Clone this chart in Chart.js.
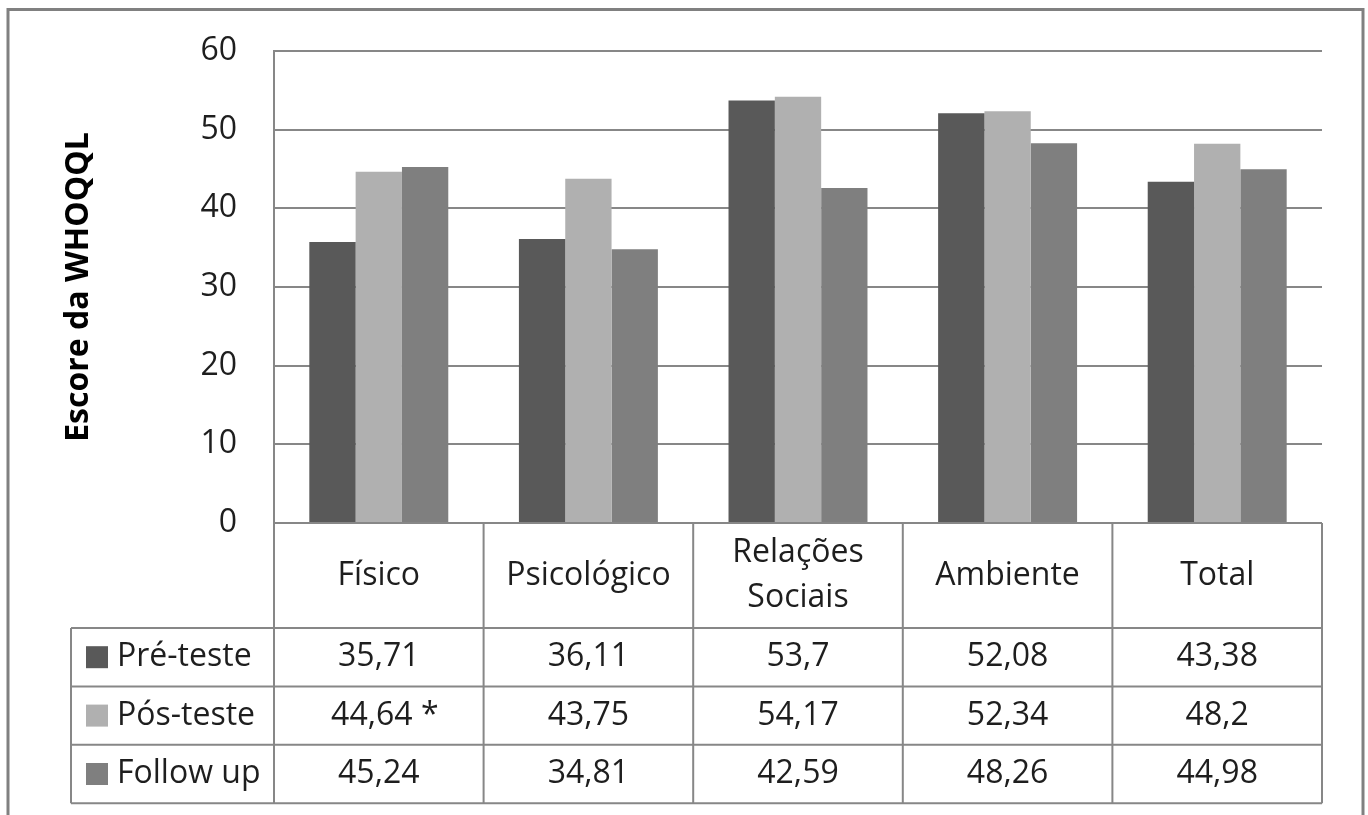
<!DOCTYPE html>
<html>
<head>
<meta charset="utf-8">
<script src="https://cdn.jsdelivr.net/npm/chart.js@4/dist/chart.umd.min.js"></script>
<style>
  html, body { margin: 0; padding: 0; background: #ffffff; }
  #wrap { width: 1368px; height: 815px; }
</style>
</head>
<body>
<div id="wrap"><canvas id="chart" width="1368" height="815"></canvas></div>
<script>
// WHOQOL domain scores by assessment moment
const categories = ['Físico', 'Psicológico', ['Relações', 'Sociais'], 'Ambiente', 'Total'];
const seriesNames = ['Pré-teste', 'Pós-teste', 'Follow up'];
const preTeste = [35.71, 36.11, 53.7, 52.08, 43.38];
const posTeste = [44.64, 43.75, 54.17, 52.34, 48.2];
const followUp = [45.24, 34.81, 42.59, 48.26, 44.98];
// significance markers shown next to the table values
const posTesteMarks = ['*', '', '', '', ''];
const noMarks = ['', '', '', '', ''];
const yTicks = [0, 10, 20, 30, 40, 50, 60];

const seriesColors = ['#595959', '#b0b0b0', '#7f7f7f'];
const lineGray = '#878787';
const textColor = '#1e1e1e';
const FONT = '"Open Sans", "Noto Sans", sans-serif';

const fmt = v => String(v).replace('.', ',');

// Draws the outer frame of the figure
const framePlugin = {
  id: 'frame',
  beforeDraw(chart) {
    const ctx = chart.ctx;
    ctx.save();
    ctx.fillStyle = '#ffffff';
    ctx.fillRect(0, 0, chart.width, chart.height);
    ctx.strokeStyle = '#808080';
    ctx.lineWidth = 3;
    ctx.strokeRect(8, 9.5, 1355, 830);
    ctx.restore();
  }
};

// Draws the data table (category header + one row per series) under the plot
const dataTablePlugin = {
  id: 'dataTable',
  afterDraw(chart) {
    const ctx = chart.ctx;
    const xs = chart.scales.x;
    const area = chart.chartArea;
    const n = categories.length;
    const colW = (area.right - area.left) / n;
    const top = area.bottom;
    const headerH = 105;
    const rowH = 58.4;
    const tableLeft = 71;
    const rowsTop = top + headerH;
    const bottom = rowsTop + rowH * seriesNames.length;
    const rows = [
      { vals: preTeste, marks: noMarks },
      { vals: posTeste, marks: posTesteMarks },
      { vals: followUp, marks: noMarks }
    ];

    ctx.save();
    ctx.strokeStyle = lineGray;
    ctx.lineWidth = 2;
    ctx.beginPath();
    // header top (category axis line)
    ctx.moveTo(area.left, top);
    ctx.lineTo(area.right, top);
    // row separators
    for (let r = 0; r <= seriesNames.length; r++) {
      const y = rowsTop + rowH * r;
      ctx.moveTo(tableLeft, y);
      ctx.lineTo(area.right, y);
    }
    // column separators
    for (let i = 0; i <= n; i++) {
      const x = area.left + colW * i;
      ctx.moveTo(x, top);
      ctx.lineTo(x, bottom);
    }
    ctx.moveTo(tableLeft, rowsTop);
    ctx.lineTo(tableLeft, bottom);
    ctx.stroke();

    ctx.fillStyle = textColor;
    ctx.font = '32px ' + FONT;
    ctx.textAlign = 'center';
    ctx.textBaseline = 'middle';
    const lineH = 45;
    categories.forEach((cat, i) => {
      const cx = xs.getPixelForValue(i);
      const lines = Array.isArray(cat) ? cat : [cat];
      const cy = top + headerH / 2;
      lines.forEach((t, k) => {
        ctx.fillText(t, cx, cy + (k - (lines.length - 1) / 2) * lineH);
      });
    });

    rows.forEach((row, r) => {
      const cy = rowsTop + rowH * (r + 0.5);
      // legend key + series name
      ctx.fillStyle = seriesColors[r];
      ctx.fillRect(86, cy - 11, 22, 22);
      ctx.fillStyle = textColor;
      ctx.textAlign = 'left';
      ctx.fillText(seriesNames[r], 117, cy);
      ctx.textAlign = 'center';
      row.vals.forEach((v, i) => {
        const cx = xs.getPixelForValue(i);
        const txt = fmt(v) + (row.marks[i] ? ' ' + row.marks[i] : '');
        ctx.fillText(txt, cx + (row.marks[i] ? 6 : 0), cy);
      });
    });
    ctx.restore();
  }
};

function draw() {
  new Chart(document.getElementById('chart'), {
    type: 'bar',
    data: {
      labels: categories,
      datasets: [
        { label: seriesNames[0], data: preTeste, backgroundColor: seriesColors[0] },
        { label: seriesNames[1], data: posTeste, backgroundColor: seriesColors[1] },
        { label: seriesNames[2], data: followUp, backgroundColor: seriesColors[2] }
      ]
    },
    options: {
      responsive: false,
      animation: false,
      events: [],
      layout: { padding: { top: 51, right: 46, bottom: 292, left: 0 } },
      datasets: {
        bar: { categoryPercentage: 0.663, barPercentage: 1.0, borderWidth: 0 }
      },
      plugins: {
        legend: { display: false },
        tooltip: { enabled: false }
      },
      scales: {
        x: {
          display: false,
          grid: { display: false }
        },
        y: {
          min: 0,
          max: 60,
          afterBuildTicks(scale) {
            scale.ticks = yTicks.map(v => ({ value: v }));
          },
          afterFit(scale) { scale.width = 274; },
          grid: {
            color: lineGray,
            lineWidth: 2,
            drawTicks: true,
            tickLength: 25,
            tickColor: 'rgba(0,0,0,0)'
          },
          border: { display: true, color: lineGray, width: 2 },
          ticks: {
            padding: 12,
            color: textColor,
            font: { family: FONT, size: 32 }
          },
          title: {
            display: true,
            text: 'Escore da WHOQQL',
            color: '#000000',
            font: { family: FONT, size: 32, weight: 'bold' },
            padding: { top: 60, bottom: 0 }
          }
        }
      }
    },
    plugins: [framePlugin, dataTablePlugin]
  });
}

if (document.fonts && document.fonts.load) {
  Promise.all([
    document.fonts.load('32px "Open Sans"'),
    document.fonts.load('bold 32px "Open Sans"')
  ]).then(draw, draw);
} else {
  draw();
}
</script>
</body>
</html>
